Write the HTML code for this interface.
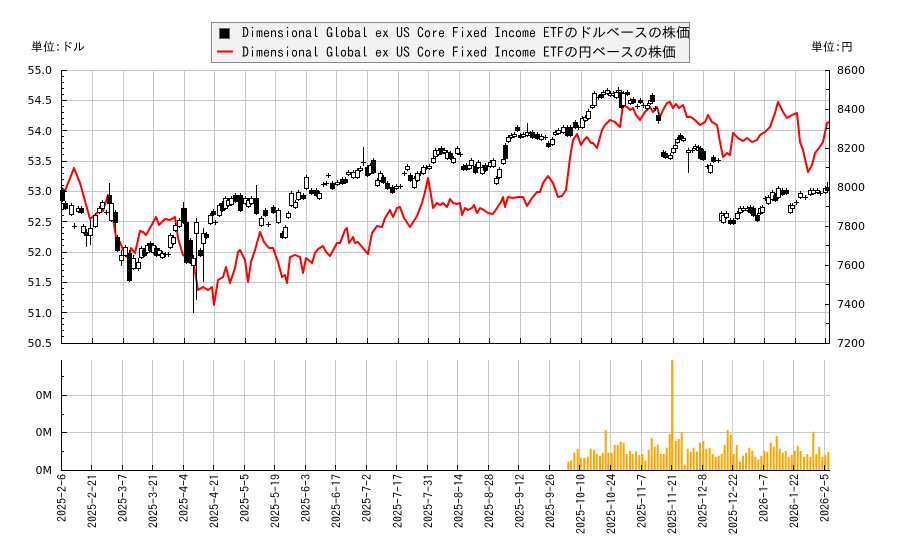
<!DOCTYPE html>
<html><head><meta charset="utf-8">
<style>
html,body{margin:0;padding:0;background:#fff;}
svg{display:block}
.t{font-family:"DejaVu Sans","Liberation Sans",sans-serif;font-size:11px;fill:#000}
.d{font-family:"IPAGothic","Noto Sans CJK JP",monospace;font-size:12px;fill:#000}
.j{font-family:"IPAGothic","Noto Sans CJK JP",sans-serif;font-size:12px;fill:#000}
.l{font-family:"IPAGothic","Noto Sans CJK JP",monospace;font-size:14px;fill:#000}
</style></head>
<body>
<svg id="c" xmlns="http://www.w3.org/2000/svg" width="900" height="550" viewBox="0 0 900 550">
<rect width="900" height="550" fill="#fff"/>
<g stroke="#c8c8c8" stroke-width="1" fill="none" shape-rendering="crispEdges">
<path d="M61 70.5H830M61 100.5H830M61 130.5H830M61 161.5H830M61 191.5H830M61 221.5H830M61 252.5H830M61 282.5H830M61 312.5H830"/>
<path d="M92.5 70V343M123.5 70V343M153.5 70V343M184.5 70V343M214.5 70V343M245.5 70V343M275.5 70V343M306.5 70V343M336.5 70V343M367.5 70V343M398.5 70V343M428.5 70V343M459.5 70V343M489.5 70V343M520.5 70V343M550.5 70V343M581.5 70V343M611.5 70V343M642.5 70V343M673.5 70V343M703.5 70V343M734.5 70V343M764.5 70V343M795.5 70V343M825.5 70V343"/>
<path d="M61 395.5H830M61 432.5H830"/>
<path d="M91.5 360V470M122.5 360V470M152.5 360V470M183.5 360V470M213.5 360V470M244.5 360V470M274.5 360V470M305.5 360V470M335.5 360V470M366.5 360V470M396.5 360V470M427.5 360V470M457.5 360V470M488.5 360V470M518.5 360V470M549.5 360V470M579.5 360V470M610.5 360V470M641.5 360V470M671.5 360V470M702.5 360V470M732.5 360V470M763.5 360V470M793.5 360V470M824.5 360V470"/>
</g>
<g id="vol"></g>
<g id="red"></g>
<g id="cand"></g>
<g stroke="#000" stroke-width="1" fill="none" shape-rendering="crispEdges">
<path d="M61.5 70V343.5H830M829.5 70V343"/>
<path d="M61.5 360V470.5H830"/>
<path d="M61 70.5H67M61 100.5H67M61 130.5H67M61 161.5H67M61 191.5H67M61 221.5H67M61 252.5H67M61 282.5H67M61 312.5H67"/>
<path d="M61 76.5H64M61 82.5H64M61 88.5H64M61 94.5H64M61 106.5H64M61 112.5H64M61 118.5H64M61 124.5H64M61 136.5H64M61 142.5H64M61 148.5H64M61 154.5H64M61 167.5H64M61 173.5H64M61 179.5H64M61 185.5H64M61 197.5H64M61 203.5H64M61 209.5H64M61 215.5H64M61 227.5H64M61 233.5H64M61 239.5H64M61 245.5H64M61 258.5H64M61 264.5H64M61 270.5H64M61 276.5H64M61 288.5H64M61 294.5H64M61 300.5H64M61 306.5H64M61 318.5H64M61 324.5H64M61 330.5H64M61 336.5H64"/>
<path d="M825 70.5H830M825 109.5H830M825 148.5H830M825 187.5H830M825 226.5H830M825 265.5H830M825 304.5H830M826 89.5H830M826 128.5H830M826 167.5H830M826 206.5H830M826 245.5H830M826 284.5H830M826 323.5H830"/>
<path d="M92.5 338V343M123.5 338V343M153.5 338V343M184.5 338V343M214.5 338V343M245.5 338V343M275.5 338V343M306.5 338V343M336.5 338V343M367.5 338V343M398.5 338V343M428.5 338V343M459.5 338V343M489.5 338V343M520.5 338V343M550.5 338V343M581.5 338V343M611.5 338V343M642.5 338V343M673.5 338V343M703.5 338V343M734.5 338V343M764.5 338V343M795.5 338V343M825.5 338V343"/>
<path d="M61 395.5H67M61 432.5H67M61 376.5H64M61 414.5H64M61 451.5H64"/>
<path d="M91.5 465V470M122.5 465V470M152.5 465V470M183.5 465V470M213.5 465V470M244.5 465V470M274.5 465V470M305.5 465V470M335.5 465V470M366.5 465V470M396.5 465V470M427.5 465V470M457.5 465V470M488.5 465V470M518.5 465V470M549.5 465V470M579.5 465V470M610.5 465V470M641.5 465V470M671.5 465V470M702.5 465V470M732.5 465V470M763.5 465V470M793.5 465V470M824.5 465V470"/>
</g>
<g class="t" text-anchor="end">
<text x="52" y="74">55.0</text><text x="52" y="104">54.5</text><text x="52" y="135">54.0</text><text x="52" y="165">53.5</text><text x="52" y="195">53.0</text><text x="52" y="226">52.5</text><text x="52" y="256">52.0</text><text x="52" y="286">51.5</text><text x="52" y="317">51.0</text><text x="52" y="347">50.5</text>
<text x="52" y="399">0M</text><text x="52" y="436">0M</text><text x="52" y="474">0M</text>
</g>
<g class="t">
<text x="837" y="74">8600</text><text x="837" y="113">8400</text><text x="837" y="152">8200</text><text x="837" y="191">8000</text><text x="837" y="230">7800</text><text x="837" y="269">7600</text><text x="837" y="308">7400</text><text x="837" y="347">7200</text>
</g>
<text class="j" x="31" y="51">単位:ドル</text>
<text class="j" x="811" y="51">単位:円</text>
<g class="d" text-anchor="end">
<text transform="translate(66,474) rotate(-90)">2025-2-6</text>
<text transform="translate(96.5,474) rotate(-90)">2025-2-21</text>
<text transform="translate(127,474) rotate(-90)">2025-3-7</text>
<text transform="translate(157.5,474) rotate(-90)">2025-3-21</text>
<text transform="translate(188,474) rotate(-90)">2025-4-4</text>
<text transform="translate(218.5,474) rotate(-90)">2025-4-21</text>
<text transform="translate(249,474) rotate(-90)">2025-5-5</text>
<text transform="translate(279.5,474) rotate(-90)">2025-5-19</text>
<text transform="translate(310,474) rotate(-90)">2025-6-3</text>
<text transform="translate(340.5,474) rotate(-90)">2025-6-17</text>
<text transform="translate(371,474) rotate(-90)">2025-7-2</text>
<text transform="translate(402,474) rotate(-90)">2025-7-17</text>
<text transform="translate(432.5,474) rotate(-90)">2025-7-31</text>
<text transform="translate(463,474) rotate(-90)">2025-8-14</text>
<text transform="translate(493.5,474) rotate(-90)">2025-8-28</text>
<text transform="translate(524,474) rotate(-90)">2025-9-12</text>
<text transform="translate(554.5,474) rotate(-90)">2025-9-26</text>
<text transform="translate(585,474) rotate(-90)">2025-10-10</text>
<text transform="translate(615.5,474) rotate(-90)">2025-10-24</text>
<text transform="translate(646,474) rotate(-90)">2025-11-7</text>
<text transform="translate(676.5,474) rotate(-90)">2025-11-21</text>
<text transform="translate(707,474) rotate(-90)">2025-12-8</text>
<text transform="translate(737.5,474) rotate(-90)">2025-12-22</text>
<text transform="translate(768,474) rotate(-90)">2026-1-7</text>
<text transform="translate(798.5,474) rotate(-90)">2026-1-22</text>
<text transform="translate(829,474) rotate(-90)">2026-2-5</text>
</g>
<rect x="211.5" y="22.5" width="478" height="40" fill="#f2f2f2" stroke="#888" stroke-width="1" shape-rendering="crispEdges"/>
<rect x="219.5" y="28.5" width="10" height="10" fill="#000" stroke="#666" shape-rendering="crispEdges"/>
<line x1="217" y1="51.5" x2="233" y2="51.5" stroke="#f00" stroke-width="2"/>
<text class="l" x="242" y="37.5">Dimensional Global ex US Core Fixed Income ETFのドルベースの株価</text>
<text class="l" x="242" y="57">Dimensional Global ex US Core Fixed Income ETFの円ベースの株価</text>
<polyline id="redline" fill="none" stroke="#f00" stroke-width="2" stroke-linejoin="round" points="61,187 65,191 74,168 80,183 90,219 95,215 98,212 103,211 108,195 112,212 116,237 120,242 123,250 126,255 129,260 131,248 135,253 140,231 143,232 146,235 150,228 156,217 159,225 165,219 170,220 175,217 178,238 180,245 183,255 187,258 190,263 193,260 196,278 198,290 203,287 208,290 212,287 214,305 218,280 223,277 226,267 230,283 235,268 238,252 240,250 245,260 248,282 251,262 255,250 260,232 264,242 269,248 273,248 278,262 282,277 285,275 287,283 290,257 295,255 300,257 303,273 306,258 312,263 315,253 318,249 323,246 326,252 330,256 337,243 340,243 345,230 347,228 349,243 353,237 355,243 358,242 363,248 368,254 372,233 377,226 382,227 385,218 390,210 393,217 397,208 400,207 404,218 410,227 417,216 422,203 425,192 428,178 431,195 433,208 437,203 440,205 443,203 447,207 450,199 453,203 457,204 460,203 462,215 465,208 468,210 472,208 474,205 477,213 480,208 484,210 488,213 493,214 497,208 501,202 503,197 505,207 508,197 513,198 518,197 523,197 527,206 532,198 537,192 540,192 543,183 548,176 553,183 558,197 562,196 566,190 570,158 573,140 577,134 581,145 584,140 587,137 591,143 593,143 597,148 602,130 605,125 610,120 615,122 620,127 623,105 627,107 630,110 633,108 636,115 640,120 645,112 650,107 653,112 657,107 660,117 663,110 667,103 670,102 673,108 676,104 679,108 683,105 687,117 691,117 695,120 700,125 705,122 708,115 712,122 717,125 720,142 723,157 727,153 730,155 733,133 738,138 743,141 747,138 752,142 757,140 760,135 765,132 770,127 775,113 778,102 783,112 787,118 792,115 797,113 800,142 803,150 808,172 812,165 815,153 819,148 823,142 827,123 830,122"/>
</svg>
<script>
(function(){
var NS="http://www.w3.org/2000/svg";
function el(t,a,p){var e=document.createElementNS(NS,t);for(var k in a)e.setAttribute(k,a[k]);p.appendChild(e);return e;}
// move red line into its group so candles draw on top
var svg=document.getElementById('c');
var red=document.getElementById('redline');
document.getElementById('red').appendChild(red);
// volume bars
var V=[[85,395],[93,392],[103,368],[113,356],[122,383],[133,383],[143,380],[152,356],[162,360],[170,372],[180,377],[188,368],[197,300],[205,368],[215,368],[224,345],[233,345],[242,335],[251,338],[260,372],[270,363],[278,372],[288,363],[298,375],[307,372],[316,392],[326,360],[335,323],[344,350],[353,344],[362,372],[371,372],[380,353],[389,312],[397,90],[407,332],[416,327],[425,306],[434,404],[443,356],[452,365],[461,353],[471,365],[480,338],[490,333],[499,356],[509,353],[518,372],[527,380],[536,377],[545,372],[554,345],[563,300],[572,314],[581,372],[590,345],[600,395],[609,377],[618,368],[628,353],[637,362],[646,380],[655,388],[664,377],[673,362],[682,365],[692,338],[701,350],[710,318],[719,356],[728,368],[737,363],[746,380],[755,375],[764,362],[773,347],[782,363],[792,380],[802,372],[811,380],[820,305],[829,372],[838,350],[847,380],[856,375],[865,366]];
var vg=document.getElementById('vol');
V.forEach(function(v){var x=540+v[0]/3,t=330+v[1]/3;el('rect',{x:(x-1).toFixed(1),y:t.toFixed(1),width:2,height:(470-t).toFixed(1),fill:'#ffa500'},vg);});
// candles [x,top,bottom,filled,wickTop,wickBottom]
var C=[[62,190,200,1],[65,203,208,1],[71,205,214,0],[74,226,227,0,223,229],[78,208,211,0],[81,208,212,1],[83,226,232,0],[86,232,235,1,229,247],[90,228,235,0,220,245],[95,215,226,0],[99,208,212,0],[102,202,208,0],[106,212,213,0],[109,195,203,1,183,220],[111,203,220,0],[115,212,222,1,210,232],[117,237,250,1],[121,255,260,0,250,266],[125,247,255,0],[129,253,280,1,250,282],[133,258,268,0,255,270],[138,262,268,0,258,271],[141,248,257,0],[144,250,255,1],[147,245,252,0],[150,243,250,1],[153,245,252,0],[156,248,255,1],[159,250,254,0],[162,253,257,0],[165,254,255,0],[168,254,255,0],[170,235,247,0],[173,237,243,0],[175,225,230,0],[179,220,226,0],[183,208,222,1,202,224],[186,222,262,1,208,264],[190,240,262,1],[193,258,265,0,255,313],[196,222,233,0,218,300],[200,250,255,1],[203,233,243,0,228,282],[206,234,237,1],[210,215,223,0],[213,211,214,1],[215,222,223,0],[219,205,215,0],[222,203,210,1],[225,198,208,0],[228,200,205,0],[231,198,204,0],[235,195,201,1],[240,195,210,1],[245,198,203,0],[248,200,206,0],[251,198,203,0],[256,198,213,1,185,215],[261,218,225,0],[265,210,215,1],[268,224,225,0],[273,207,212,1],[278,210,222,0],[282,233,237,1],[285,227,237,0],[288,213,217,0],[291,193,205,0],[295,202,207,0],[298,192,199,0],[303,195,198,1],[306,177,188,0],[311,190,193,1],[316,190,195,1],[319,193,198,0],[323,184,185,0],[326,183,184,0],[328,175,176,0],[332,183,188,1],[337,182,184,0],[342,179,183,1],[345,179,182,1],[348,172,174,0],[353,172,177,0],[357,170,177,0],[360,168,170,0],[363,162,163,0,147,166],[367,167,175,1],[370,165,173,0],[373,160,172,1],[377,180,185,0],[380,173,180,0],[383,177,182,1],[387,183,188,1],[392,187,192,1],[396,186,188,0],[400,186,187,0],[404,173,174,0],[407,166,169,0],[410,175,180,1],[414,178,187,0],[417,173,180,0],[420,173,174,0],[423,167,173,0],[426,167,168,0],[429,166,168,0],[433,158,162,0],[435,150,156,0],[438,150,154,0],[441,148,153,1],[444,150,152,0],[447,152,158,0],[450,153,158,1],[453,158,162,0],[457,148,153,0],[460,154,155,0],[463,166,169,1],[466,165,169,1],[469,165,168,0],[471,160,165,0],[475,166,172,1],[478,162,167,0],[482,167,173,0],[485,165,170,1],[490,162,166,0],[493,160,166,0],[496,178,183,0],[499,169,177,0],[503,159,163,0],[505,145,158,1],[508,137,141,0],[511,135,137,0],[514,134,136,0],[517,127,130,1],[520,135,137,1],[523,134,136,0],[527,132,135,0,123,137],[530,133,135,0],[532,132,137,1],[537,134,138,1],[541,136,139,0],[545,137,138,0],[548,143,146,1],[552,139,144,0],[555,132,134,0],[558,130,133,0],[563,127,132,0],[567,127,135,1],[570,127,135,1],[575,122,127,1],[578,127,128,0],[582,118,127,0],[585,117,120,0],[588,111,118,0],[592,105,107,0],[594,93,105,0],[598,97,98,0],[601,94,97,1],[603,92,94,0],[607,90,93,0],[610,93,95,0],[613,93,95,0],[616,92,97,0],[618,90,91,0,87,93],[621,92,107,1],[623,93,105,0],[627,92,94,1],[630,100,103,0],[633,99,102,1],[637,106,107,0],[640,100,102,1],[643,105,106,0],[647,105,108,0],[650,100,103,0],[652,95,101,1],[655,108,109,0],[658,115,120,1,112,124],[663,152,156,1],[665,153,157,1],[667,155,156,0],[670,155,158,0],[673,148,152,0],[675,145,148,0],[677,139,142,0],[680,135,138,1],[683,138,140,0],[688,150,152,0,148,173],[692,150,151,0],[695,146,148,0],[698,147,150,0],[700,148,158,1],[703,151,159,1],[707,166,167,0],[710,165,172,0],[713,157,161,1],[718,160,161,0],[721,213,220,0],[723,215,222,0],[726,213,217,0],[730,220,223,1],[733,220,223,1],[737,213,218,0],[740,208,212,0],[743,208,210,0],[747,208,210,0],[750,207,212,1],[753,208,215,1],[757,215,220,1],[760,208,213,0],[762,207,212,0],[765,198,199,0],[768,197,203,0],[772,192,199,0],[775,195,200,1],[778,188,197,0],[782,190,194,1],[786,190,193,1],[790,205,212,0],[792,205,208,0],[796,202,203,0],[800,193,197,0],[805,197,198,0],[810,190,194,0],[813,190,193,0],[817,190,192,0],[820,193,194,0],[825,188,192,0],[827,187,190,1,182,192]];
var cg=document.getElementById('cand');
C.forEach(function(c){
 var x=Math.round(c[0])+0.5,y1=c[1],y2=c[2];
 var wt=(c.length>4)?c[4]:y1-2,wb=(c.length>5)?c[5]:y2+2;
 el('line',{x1:x,y1:wt,x2:x,y2:wb,stroke:'#000','stroke-width':1,'shape-rendering':'crispEdges'},cg);
 if(y2-y1<=1.5){
  el('line',{x1:x-2.5,y1:y1+0.5,x2:x+2.5,y2:y1+0.5,stroke:'#000','stroke-width':1,'shape-rendering':'crispEdges'},cg);
 }else{
  el('rect',{x:x-2,y:y1+0.5,width:4,height:y2-y1,fill:c[3]?'#000':'#fff',stroke:'#000','stroke-width':1,'shape-rendering':'crispEdges'},cg);
 }
});
})();
</script>
</body></html>
